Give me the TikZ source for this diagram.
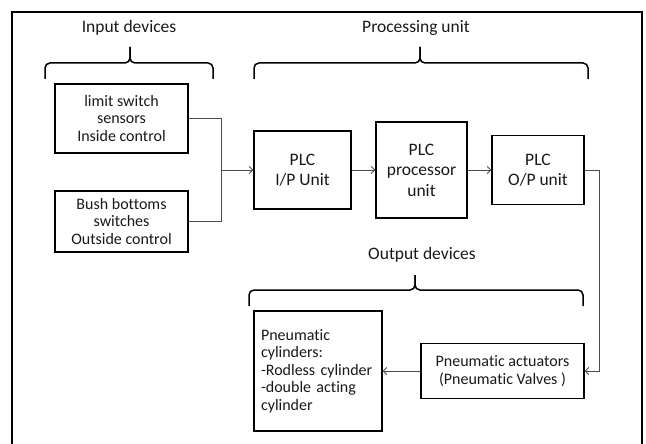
\documentclass[tikz,border=0pt]{standalone}
\usepackage{fontspec}
\setmainfont{Carlito}[Ligatures=NoCommon]
\usetikzlibrary{arrows.meta}
\begin{document}
\begin{tikzpicture}[x=1pt,y=-1pt,
  box/.style={draw, line width=1.4pt, inner sep=0pt, align=center,
    text=black!90, font=\fontsize{16}{17.5}\selectfont},
  plcbox/.style={box, font=\fontsize{17.5}{20.5}\selectfont},
  head/.style={inner sep=0pt, text=black!90, font=\fontsize{17.5}{20}\selectfont},
  brace/.style={line width=1.5pt, rounded corners=5pt},
  link/.style={draw=black!70, line width=0.8pt},
  arr/.style={link, -{Straight Barb[length=3.5pt,width=7pt]}}]
\useasboundingbox (0,0) rectangle (646,444);

% outer frame
\draw[line width=1.3pt] (12,452) -- (12,12) -- (642,12) -- (642,452);

% group headings
\node[head] (hin)  at (129,28)  {Input devices};
\node[head] (hpro) at (416,28)  {Processing unit};
\node[head] (hout) at (422,255) {Output devices};

% curly braces under the headings
\draw[brace] (45,79) -- (45,63) -- (130,63) -- (130,47);
\draw[brace] (213,79) -- (213,63) -- (130,63) -- (130,47);
\draw[brace] (254,79) -- (254,63) -- (420,63) -- (420,47);
\draw[brace] (588,79) -- (588,63) -- (420,63) -- (420,47);
\draw[brace] (249,306) -- (249,290) -- (415,290) -- (415,275);
\draw[brace] (583,306) -- (583,290) -- (415,290) -- (415,275);

% input devices
\node[box, minimum width=133pt, minimum height=69pt] (b1) at (121.5,118.5)
  {limit switch\\sensors\\Inside control};
\node[box, minimum width=133pt, minimum height=61pt] (b2) at (121.5,221.5)
  {Bush bottoms\\switches\\Outside control};

% processing unit
\node[plcbox, minimum width=97pt, minimum height=78pt] (plcin) at (302.5,170)
  {PLC\\I/P Unit};
\node[plcbox, minimum width=91pt, minimum height=96pt] (proc) at (421.5,170)
  {PLC\\processor\\unit};
\node[plcbox, minimum width=92pt, minimum height=69pt] (plcout) at (538,170)
  {PLC\\O/P unit};

% output devices
\node[box, minimum width=128pt, minimum height=120pt, text width=114pt, align=left]
  (cyl) at (318,371)
  {Pneumatic\\cylinders:\\-Rodless cylinder\\-double acting\\cylinder};
\node[box, minimum width=163pt, minimum height=55pt] (act) at (502.5,371)
  {Pneumatic actuators\\(Pneumatic Valves )};

% connectors
\coordinate (join) at (221,170);
\draw[link] (b1.east) -| (join);
\draw[link] (b2.east) -| (join);
\draw[arr] (join) -- (plcin.west);
\draw[arr] (plcin.east) -- (proc.west);
\draw[arr] (proc.east) -- (plcout.west);
\draw[arr] (plcout.east) -- ++(15,0) |- (act.east);
\draw[arr] (act.west) -- (cyl.east);
\end{tikzpicture}
\end{document}
